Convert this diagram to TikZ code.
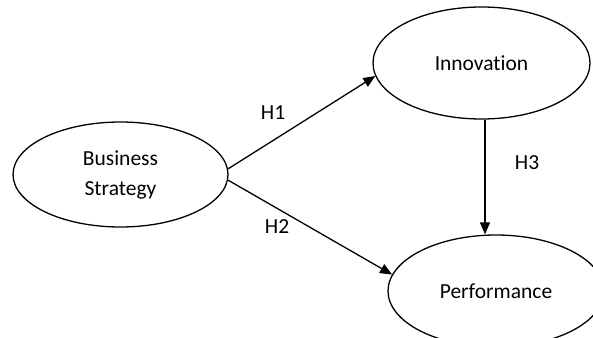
\documentclass[tikz,border=0pt]{standalone}
\usepackage{fontspec}
\setmainfont[Ligatures={NoCommon}]{Carlito}
\usetikzlibrary{shapes.geometric,arrows.meta}
\tikzset{
  oval/.style={draw=black, line width=1.3pt, ellipse, inner sep=0pt, align=center,
    font=\fontsize{21.5}{30}\selectfont},
  arr/.style={draw=black, line width=1.3pt, -{Triangle[length=12pt,width=10pt]}},
  hlabel/.style={font=\fontsize{21.5}{26}\selectfont, inner sep=0pt}
}
\begin{document}
\begin{tikzpicture}[x=1pt,y=1pt]
\useasboundingbox (0,0) rectangle (593,-337);
\node[oval, minimum width=215pt, minimum height=105pt] (bs) at (120.5,-174.5) {Business\\Strategy};
\node[oval, minimum width=217pt, minimum height=112pt] (inn) at (481.5,-63) {Innovation};
\node[oval, minimum width=216pt, minimum height=112pt] (perf) at (496,-291) {Performance};
\draw[arr] (bs.3.5) -- (inn.187.9);
\draw[arr] (bs.-3.5) -- (perf.171.6);
\draw[arr] ([xshift=3.5pt]inn.south) -- ([xshift=3.5pt]inn.south |- perf.north);
\node[hlabel] (h1) at (273,-113) {H1};
\node[hlabel] (h2) at (277,-227) {H2};
\node[hlabel] (h3) at (527,-163) {H3};
\end{tikzpicture}
\end{document}
